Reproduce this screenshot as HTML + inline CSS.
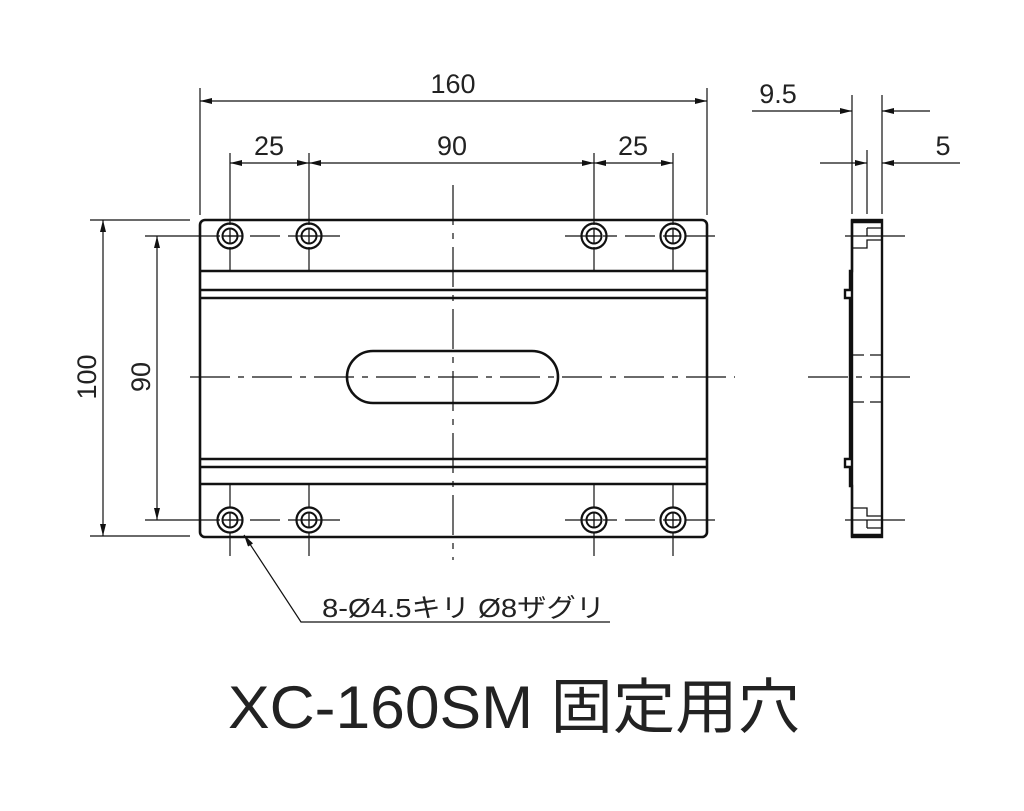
<!DOCTYPE html>
<html><head><meta charset="utf-8"><style>
html,body{margin:0;padding:0;background:#fff}
svg{display:block}
text{font-family:"Liberation Sans","Noto Sans CJK JP",sans-serif;fill:#222;font-weight:normal;stroke:none}
</style></head><body>
<svg width="1024" height="811" viewBox="0 0 1024 811" xmlns="http://www.w3.org/2000/svg">
<defs>
<marker id="a" viewBox="0 0 12 6" refX="12" refY="3" markerWidth="12" markerHeight="6" orient="auto-start-reverse" markerUnits="userSpaceOnUse">
<path d="M0,0 L12,3 L0,6 z" fill="#111"/></marker>
<g id="hole">
<circle r="12.5" fill="none" stroke="#111" stroke-width="2.2"/>
<circle r="7.5" fill="none" stroke="#111" stroke-width="2"/>
<line x1="-7" y1="0" x2="7" y2="0" stroke="#111" stroke-width="1.3"/>
<line x1="0" y1="-7" x2="0" y2="7" stroke="#111" stroke-width="1.3"/>
</g>
</defs>
<g stroke="#111" fill="none">
<rect x="200" y="220" width="507" height="317" rx="5" stroke-width="2.6"/>
<g stroke-width="2.4">
<line x1="200" y1="271" x2="707" y2="271"/>
<line x1="200" y1="290" x2="707" y2="290"/>
<line x1="200" y1="298" x2="707" y2="298"/>
<line x1="200" y1="459" x2="707" y2="459"/>
<line x1="200" y1="467" x2="707" y2="467"/>
<line x1="200" y1="484" x2="707" y2="484"/>
</g>
<rect x="347" y="351" width="211" height="52" rx="26" stroke-width="2.6"/>
<g stroke-width="1.2" stroke-dasharray="40,8,6,8">
<line x1="453" y1="185" x2="453" y2="560"/>
<line x1="190" y1="377" x2="735" y2="377"/>
<line x1="808" y1="377" x2="918" y2="377"/>
</g>
<g stroke-width="1.2" stroke-dasharray="30,8,14,8">
<line x1="190" y1="236" x2="343" y2="236"/>
<line x1="565" y1="236" x2="715" y2="236"/>
<line x1="190" y1="520" x2="343" y2="520"/>
<line x1="565" y1="520" x2="715" y2="520"/>
</g>
<g stroke-width="1.2">
<line x1="230" y1="153" x2="230" y2="225"/><line x1="230" y1="247" x2="230" y2="271"/>
<line x1="309" y1="153" x2="309" y2="225"/><line x1="309" y1="247" x2="309" y2="271"/>
<line x1="594" y1="153" x2="594" y2="225"/><line x1="594" y1="247" x2="594" y2="271"/>
<line x1="673" y1="153" x2="673" y2="225"/><line x1="673" y1="247" x2="673" y2="271"/>
<line x1="230" y1="484" x2="230" y2="508"/><line x1="230" y1="532" x2="230" y2="556"/>
<line x1="309" y1="484" x2="309" y2="508"/><line x1="309" y1="532" x2="309" y2="556"/>
<line x1="594" y1="484" x2="594" y2="508"/><line x1="594" y1="532" x2="594" y2="556"/>
<line x1="673" y1="484" x2="673" y2="508"/><line x1="673" y1="532" x2="673" y2="556"/>
<line x1="200" y1="88" x2="200" y2="215"/><line x1="707" y1="88" x2="707" y2="215"/>
<line x1="200" y1="101" x2="707" y2="101" marker-start="url(#a)" marker-end="url(#a)"/>
<line x1="230" y1="163" x2="309" y2="163" marker-start="url(#a)" marker-end="url(#a)"/>
<line x1="309" y1="163" x2="594" y2="163" marker-start="url(#a)" marker-end="url(#a)"/>
<line x1="594" y1="163" x2="673" y2="163" marker-start="url(#a)" marker-end="url(#a)"/>
<line x1="90" y1="220" x2="190" y2="220"/><line x1="90" y1="536" x2="190" y2="536"/>
<line x1="103" y1="220" x2="103" y2="536" marker-start="url(#a)" marker-end="url(#a)"/>
<line x1="145" y1="236" x2="190" y2="236"/><line x1="145" y1="520" x2="190" y2="520"/>
<line x1="157" y1="236" x2="157" y2="520" marker-start="url(#a)" marker-end="url(#a)"/>
<line x1="852" y1="95" x2="852" y2="214"/><line x1="867" y1="150" x2="867" y2="214"/><line x1="882" y1="95" x2="882" y2="214"/>
<line x1="752" y1="111" x2="852" y2="111" marker-end="url(#a)"/>
<line x1="930" y1="111" x2="882" y2="111" marker-end="url(#a)"/>
<line x1="820" y1="163" x2="867" y2="163" marker-end="url(#a)"/>
<line x1="960" y1="163" x2="882" y2="163" marker-end="url(#a)"/>
<polyline points="610,622 301,622 244,535" marker-end="url(#a)"/>
</g>
<g stroke="#111" fill="none" stroke-width="2.4">
<rect x="852" y="220" width="30" height="317"/>
<line x1="852" y1="222" x2="882" y2="222"/>
<line x1="852" y1="535" x2="882" y2="535"/>
<path d="M852,220 L852,271 L850,271 L850,290 L845,290 L845,298 L850,298 L850,459 L845,459 L845,467 L850,467 L850,486 L852,486 L852,537"/>
</g>
<g stroke="#111" fill="none" stroke-width="1.3">
<path d="M852,248 L867,248 L867,240 L882,240 M867,228 L882,228 M867,228 L867,236"/>
<path d="M852,508 L867,508 L867,516 L882,516 M867,528 L882,528 M867,528 L867,520"/>
<line x1="845" y1="236" x2="905" y2="236"/><line x1="845" y1="520" x2="905" y2="520"/>
<line x1="852" y1="355" x2="882" y2="355" stroke-dasharray="12,6"/>
<line x1="852" y1="402" x2="882" y2="402" stroke-dasharray="12,6"/>
</g>
<use href="#hole" x="230" y="236"/><use href="#hole" x="309" y="236"/>
<use href="#hole" x="594" y="236"/><use href="#hole" x="673" y="236"/>
<use href="#hole" x="230" y="520"/><use href="#hole" x="309" y="520"/>
<use href="#hole" x="594" y="520"/><use href="#hole" x="673" y="520"/>
<g font-size="27" text-anchor="middle">
<text x="453" y="93">160</text>
<text x="269" y="155">25</text>
<text x="452" y="155">90</text>
<text x="633" y="155">25</text>
<text x="778" y="103">9.5</text>
<text x="943" y="155">5</text>
<text transform="translate(96,377) rotate(-90)">100</text>
<text transform="translate(150,377) rotate(-90)">90</text>
</g>
<text x="322" y="617" font-size="26" textLength="283" lengthAdjust="spacingAndGlyphs">8-Ø4.5キリ Ø8ザグリ</text>
<text x="228" y="728" font-size="60" textLength="572" lengthAdjust="spacingAndGlyphs">XC-160SM 固定用穴</text>
</svg>
</body></html>
